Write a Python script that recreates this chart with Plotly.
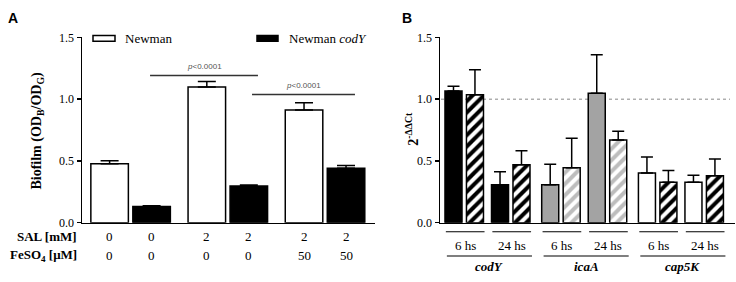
import plotly.graph_objects as go

W, H = 736, 282

# ---------------- data ----------------
# Panel A
a_groups = ["g1", "g2", "g3"]
a_series = ["Newman", "Newman codY"]
a_newman = [0.477, 1.098, 0.913]
a_newman_err = [0.025, 0.046, 0.059]
a_cody = [0.131, 0.297, 0.441]
a_cody_err = [0.007, 0.008, 0.023]
sal_labels = ["0", "0", "2", "2", "2", "2"]
fe_labels = ["0", "0", "0", "0", "50", "50"]

# Panel B
genes = ["codY", "icaA", "cap5K"]
times = ["6 hs", "24 hs"]
b_solid = [1.067, 0.308, 0.308, 1.049, 0.403, 0.328]
b_solid_err = [0.038, 0.105, 0.166, 0.311, 0.130, 0.057]
b_hatch = [1.036, 0.469, 0.444, 0.670, 0.328, 0.380]
b_hatch_err = [0.202, 0.113, 0.240, 0.070, 0.095, 0.135]
solid_colors = ["black", "black", "#a3a3a3", "#a3a3a3", "white", "white"]
hatch_colors = ["black", "black", "#bdbdbd", "#bdbdbd", "black", "black"]

SERIF = "Liberation Serif"
SANS = "Liberation Sans"

def px2x(px):
    return px / W

def py2y(py):
    return (H - py) / H

def ann(text, x, y, xref="paper", yref="paper", xanchor="center", yanchor="middle", **kw):
    d = dict(text=text, x=x, y=y, xref=xref, yref=yref, xanchor=xanchor, yanchor=yanchor,
             showarrow=False)
    d.update(kw)
    return d

fig = go.Figure()

# ---------------- Panel A ----------------
a_off = 0.216
a_w = 0.386
xa_new = [i - a_off for i in range(len(a_groups))]
xa_cod = [i + a_off for i in range(len(a_groups))]

fig.add_trace(go.Bar(
    x=xa_new, y=a_newman, width=a_w, xaxis="x", yaxis="y",
    marker=dict(color="white", line=dict(color="black", width=1.5)),
    error_y=dict(type="data", symmetric=False, array=a_newman_err,
                 arrayminus=[0] * 3, width=9, thickness=1.5, color="black"),
    showlegend=False, name=a_series[0], hoverinfo="skip"))
fig.add_trace(go.Bar(
    x=xa_cod, y=a_cody, width=a_w, xaxis="x", yaxis="y",
    marker=dict(color="black", line=dict(color="black", width=1.5)),
    error_y=dict(type="data", symmetric=False, array=a_cody_err,
                 arrayminus=[0] * 3, width=9, thickness=1.5, color="black"),
    showlegend=False, name=a_series[1], hoverinfo="skip"))

# ---------------- Panel B ----------------
pair_sp = 0.481
bar_sp = 0.222
b_w = 0.176
xb_pair = []
for g in range(len(genes)):
    for t in range(len(times)):
        xb_pair.append(g + (t - 0.5) * pair_sp)
xb_solid = [p - bar_sp / 2 for p in xb_pair]
xb_hatch = [p + bar_sp / 2 for p in xb_pair]

fig.add_trace(go.Bar(
    x=xb_solid, y=b_solid, width=b_w, xaxis="x2", yaxis="y2",
    marker=dict(color=solid_colors, line=dict(color="black", width=1.5)),
    error_y=dict(type="data", symmetric=False, array=b_solid_err,
                 arrayminus=[0] * 6, width=6, thickness=1.5, color="black"),
    showlegend=False, hoverinfo="skip"))
fig.add_trace(go.Bar(
    x=xb_hatch, y=b_hatch, width=b_w, xaxis="x2", yaxis="y2",
    marker=dict(color="white", line=dict(color="black", width=1.5),
                pattern=dict(shape="/", fgcolor=hatch_colors, bgcolor="white",
                             size=8, solidity=0.5, fgopacity=1, fillmode="overlay")),
    error_y=dict(type="data", symmetric=False, array=b_hatch_err,
                 arrayminus=[0] * 6, width=6, thickness=1.5, color="black"),
    showlegend=False, hoverinfo="skip"))

annotations = []
shapes = []

# panel letters
annotations.append(ann("<b>A</b>", px2x(13), py2y(12), font=dict(family=SANS, size=14, color="black")))
annotations.append(ann("<b>B</b>", px2x(407), py2y(12), font=dict(family=SANS, size=14, color="black")))

# y titles
annotations.append(ann("<b>Biofilm (OD<sub>B</sub>/OD<sub>G</sub>)</b>", px2x(38), py2y(130),
                       textangle=-90, font=dict(family=SERIF, size=14, color="black")))
annotations.append(ann("<b>2<sup>-ΔΔCt</sup></b>", px2x(412), py2y(128),
                       textangle=-90, font=dict(family=SERIF, size=14, color="black")))

# legend (panel A)
shapes.append(dict(type="rect", xref="paper", yref="paper",
                   x0=px2x(93), x1=px2x(115), y0=py2y(36), y1=py2y(30),
                   line=dict(color="black", width=1.5), fillcolor="white"))
annotations.append(ann(a_series[0], px2x(123), py2y(33), xanchor="left",
                       font=dict(family=SERIF, size=13, color="black")))
shapes.append(dict(type="rect", xref="paper", yref="paper",
                   x0=px2x(257), x1=px2x(278), y0=py2y(36), y1=py2y(30),
                   line=dict(color="black", width=1.5), fillcolor="black"))
annotations.append(ann("Newman <i>codY</i>", px2x(287), py2y(33), xanchor="left",
                       font=dict(family=SERIF, size=13, color="black")))

# significance
for (x0, x1, yl, yt) in [(0.2, 1.31, 1.192, 1.262), (1.249, 2.308, 1.038, 1.11)]:
    shapes.append(dict(type="line", xref="x", yref="y", x0=x0, x1=x1, y0=yl, y1=yl,
                       line=dict(color="#333333", width=1.5)))
    annotations.append(ann("<i>p</i><0.0001", (x0 + x1) / 2, yt, xref="x", yref="y",
                           font=dict(family=SANS, size=8, color="#555555")))

# condition table (panel A)
annotations.append(ann("<b>SAL [mM]</b>", px2x(79), py2y(242), xanchor="right",
                       font=dict(family=SERIF, size=13, color="black")))
annotations.append(ann("<b>FeSO<sub>4</sub> [μM]</b>", px2x(79), py2y(262), xanchor="right",
                       font=dict(family=SERIF, size=13, color="black")))
bar_x_a = []
for i in range(len(a_groups)):
    bar_x_a += [xa_new[i], xa_cod[i]]
for xv, s, f in zip(bar_x_a, sal_labels, fe_labels):
    annotations.append(ann(s, xv, py2y(242), xref="x", font=dict(family=SERIF, size=13, color="black")))
    annotations.append(ann(f, xv, py2y(262), xref="x", font=dict(family=SERIF, size=13, color="black")))

# panel B labels
for i, p in enumerate(xb_pair):
    shapes.append(dict(type="line", xref="x2", yref="paper", x0=p - 0.19, x1=p + 0.21,
                       y0=py2y(236.5), y1=py2y(236.5), line=dict(color="black", width=1.2)))
    annotations.append(ann(times[i % 2], p + 0.01, py2y(251), xref="x2",
                           font=dict(family=SERIF, size=13, color="black")))
for g, name in enumerate(genes):
    shapes.append(dict(type="line", xref="x2", yref="paper", x0=g - 0.42, x1=g + 0.46,
                       y0=py2y(262), y1=py2y(262), line=dict(color="black", width=1.2)))
    annotations.append(ann("<b><i>%s</i></b>" % name, g + 0.02, py2y(273), xref="x2",
                           font=dict(family=SERIF, size=13, color="black")))

# dotted reference line at 1.0
shapes.append(dict(type="line", xref="paper", yref="y2", x0=px2x(441), x1=px2x(730), y0=1, y1=1,
                   line=dict(color="#888888", width=1, dash="dot"), layer="below"))

yd = [py2y(227), py2y(32)]
axis_common = dict(showline=True, linecolor="black", linewidth=1.5, showgrid=False, zeroline=False)

fig.update_layout(
    width=W, height=H, margin=dict(l=0, r=0, t=0, b=0),
    paper_bgcolor="white", plot_bgcolor="white",
    barmode="overlay", hovermode=False,
    xaxis=dict(domain=[px2x(82), px2x(375)], range=[-0.5, 2.514], showticklabels=False,
               ticks="", **axis_common),
    yaxis=dict(domain=yd, range=[0, 1.5], tickvals=[0, 0.5, 1.0, 1.5], tickformat=".1f",
               ticks="outside", ticklen=4, tickwidth=1.5, tickcolor="black",
               tickfont=dict(family=SERIF, size=12, color="black"), anchor="x", **axis_common),
    xaxis2=dict(domain=[px2x(440), px2x(735)], range=[-0.491, 2.559], showticklabels=False,
                ticks="", anchor="y2", **axis_common),
    yaxis2=dict(domain=yd, range=[0, 1.5], tickvals=[0, 0.5, 1.0, 1.5], tickformat=".1f",
                ticks="outside", ticklen=4, tickwidth=1.5, tickcolor="black",
                tickfont=dict(family=SERIF, size=12, color="black"), anchor="x2", **axis_common),
    annotations=annotations, shapes=shapes,
)

fig.write_html("out.html", config={"displayModeBar": False, "staticPlot": True},
               post_script="document.body.style.margin='0';document.body.style.padding='0';")
